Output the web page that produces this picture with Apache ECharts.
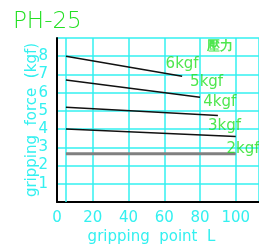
<!DOCTYPE html>
<html>
<head>
<meta charset="utf-8">
<title>PH-25</title>
<script src="https://cdn.jsdelivr.net/npm/echarts@6/dist/echarts.min.js"></script>
<style>
  html, body { margin: 0; padding: 0; background: #fff; }
  #main { width: 259px; height: 245px; }
</style>
</head>
<body>
<div id="main"></div>
<script>
// gripping force vs gripping point, one line per air pressure
var pressures = ['6kgf', '5kgf', '4kgf', '3kgf', '2kgf'];
var startX = [5, 5, 5, 5, 5];
var endX = [70, 80, 90, 100, 100];
var startForce = [8.0, 6.7, 5.2, 4.0, 2.65];
var endForce = [6.9, 5.75, 4.75, 3.6, 2.65];

// label anchors (data coords)
var labelX = [70, 83.7, 91, 93.7, 104];
var labelY = [7.59, 6.56, 5.47, 4.14, 2.92];

var xTicks = [0, 20, 40, 60, 80, 100];

var CYAN = '#33f0f0';
var GREEN = '#22e022';
var FONT = 'DejaVu Sans';

var series = [];
for (var i = 0; i < pressures.length; i++) {
    var isLast = i === pressures.length - 1;
    series.push({
        name: pressures[i],
        type: 'line',
        symbol: 'none',
        silent: true,
        z: 5,
        lineStyle: { color: isLast ? '#808080' : '#111', width: isLast ? 3 : 1.5 },
        data: [[startX[i], startForce[i]], [endX[i], endForce[i]]]
    });
}

// extra vertical grid line at x = 5
series.push({
    type: 'line',
    data: [],
    markLine: {
        silent: true,
        symbol: 'none',
        label: { show: false },
        lineStyle: { color: CYAN, width: 1.5, type: 'solid' },
        data: [{ xAxis: 5 }]
    }
});

var labelData = [];
for (var j = 0; j < pressures.length; j++) {
    labelData.push({ value: [labelX[j], labelY[j]], name: pressures[j] });
}
labelData.push({ value: [91, 8.5], name: '壓力', label: { fontSize: 13, fontWeight: 'bold' } });

series.push({
    type: 'scatter',
    symbolSize: 0,
    silent: true,
    z: 10,
    data: labelData,
    label: {
        show: true,
        position: 'inside',
        formatter: '{b}',
        color: GREEN,
        fontFamily: FONT,
        fontSize: 15
    }
});

var chart = echarts.init(document.getElementById('main'));
chart.setOption({
    animation: false,
    backgroundColor: '#fff',
    title: {
        text: 'PH-25',
        left: 8,
        top: 6,
        textStyle: { color: GREEN, fontFamily: FONT, fontWeight: 200, fontSize: 23 }
    },
    grid: { left: 57, top: 38, right: 0, bottom: 43, outerBoundsMode: 'none' },
    xAxis: {
        type: 'value',
        min: 0,
        max: 113,
        interval: 20,
        name: 'gripping  point  L',
        nameLocation: 'middle',
        nameGap: 28,
        nameMoveOverlap: false,
        nameTextStyle: { color: CYAN, fontFamily: FONT, fontSize: 15, padding: [0, 13, 0, 0] },
        axisLine: { lineStyle: { color: '#000', width: 2 } },
        axisTick: { show: false },
        axisLabel: {
            color: CYAN, fontFamily: FONT, fontSize: 15, margin: 9,
            formatter: function (v) { return xTicks.indexOf(v) >= 0 ? String(v) : ''; }
        },
        splitLine: { show: true, lineStyle: { color: CYAN, width: 1.5 } }
    },
    yAxis: {
        type: 'value',
        min: 0,
        max: 9,
        interval: 1,
        name: 'gripping  force  (kgf)',
        nameLocation: 'middle',
        nameGap: 17,
        nameMoveOverlap: false,
        nameTextStyle: { color: CYAN, fontFamily: FONT, fontSize: 15 },
        axisLine: { show: true, lineStyle: { color: '#000', width: 2 } },
        axisTick: { show: false },
        axisLabel: {
            color: CYAN, fontFamily: FONT, fontSize: 15, margin: 9,
            formatter: function (v) { return (v === 0 || v === 9) ? '' : String(v); }
        },
        splitLine: { show: true, lineStyle: { color: CYAN, width: 1.5 } }
    },
    series: series
});
</script>
</body>
</html>
